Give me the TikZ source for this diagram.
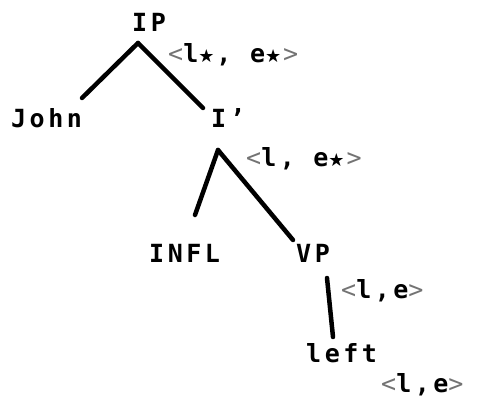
\documentclass[tikz,border=0pt]{standalone}
\usepackage{fontspec}
\setmonofont[LetterSpace=14]{DejaVu Sans Mono}
\newfontfamily\starfont{DejaVu Sans}
\usetikzlibrary{calc}

\newcommand{\pr}[1]{{\mdseries\color{black!55}<}#1{\mdseries\color{black!55}>}}
\newcommand{\st}{{\starfont\fontsize{18}{18}\selectfont ★}\hspace{2pt}}

\tikzset{
  word/.style={inner sep=0pt, anchor=base west, font=\ttfamily\bfseries\fontsize{25}{27}\selectfont},
  branch/.style={line width=4.5pt, line cap=round}
}

\begin{document}
\begin{tikzpicture}[x=1pt, y=-1pt]
  \useasboundingbox (0,0) rectangle (479,398);

  % Define nodes
  \node[word] (ip)    at (132,32)  {IP};
  \node[word] (john)  at (11,128)  {John};
  \node[word] (ibar)  at (211,128) {I’};
  \node[word] (infl)  at (149,262) {INFL};
  \node[word] (vp)    at (296,262) {VP};
  \node[word] (left)  at (306,362) {left};

  % Pairs
  \node[word] (pip)   at (168,63)  {\pr{l\st, e\st}};
  \node[word] (pibar) at (246,167) {\pr{l, e\st}};
  \node[word] (pvp)   at (341,298) {\pr{l,e}};
  \node[word] (pleft) at (381,392) {\pr{l,e}};

  % Connect the nodes
  \draw[branch] ($(ip.base west)+(6,11)$) -- ($(john.base west)+(71,-30)$);
  \draw[branch] ($(ip.base west)+(6,11)$) -- ($(ibar.base west)+(-8,-20)$);
  \draw[branch] ($(ibar.base west)+(7,22)$) -- ($(infl.base west)+(46,-47)$);
  \draw[branch] ($(ibar.base west)+(7,22)$) -- ($(vp.base west)+(-3,-22)$);
  \draw[branch] ($(vp.base west)+(31,16)$) -- ($(left.base west)+(27,-25)$);

\end{tikzpicture}
\end{document}
